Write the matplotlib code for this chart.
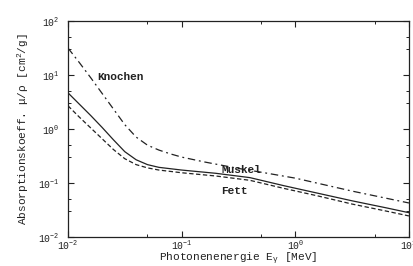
import matplotlib
matplotlib.use("Agg")
import matplotlib.pyplot as plt
from matplotlib.ticker import LogLocator, NullFormatter

plt.rcParams['font.family'] = ['Liberation Mono', 'DejaVu Sans']
plt.rcParams['mathtext.fontset'] = 'custom'
plt.rcParams['mathtext.rm'] = 'Liberation Mono'
plt.rcParams['mathtext.it'] = 'Liberation Mono'

logE_kn = [-2.0, -1.9, -1.8, -1.7, -1.6, -1.5, -1.4, -1.3, -1.2, -1.1, -1.0,
           -0.8, -0.5, -0.3, 0.0, 0.5, 1.0]
logmu_kn = [1.5, 1.23, 0.95, 0.66, 0.37, 0.08, -0.15, -0.30, -0.39, -0.46, -0.52,
            -0.61, -0.73, -0.80, -0.91, -1.15, -1.37]

logE_mu = [-2.0, -1.9, -1.8, -1.7, -1.6, -1.5, -1.4, -1.3, -1.2, -1.0, -0.7,
           -0.4, -0.1, 0.2, 0.5, 0.8, 1.0]
logmu_mu = [0.67, 0.46, 0.25, 0.03, -0.2, -0.42, -0.57, -0.66, -0.71, -0.76, -0.82,
            -0.90, -1.05, -1.19, -1.33, -1.46, -1.55]

logE_fe = [-2.0, -1.9, -1.8, -1.7, -1.6, -1.5, -1.4, -1.3, -1.2, -1.0, -0.7,
           -0.4, -0.1, 0.2, 0.5, 0.8, 1.0]
logmu_fe = [0.43, 0.22, 0.02, -0.18, -0.38, -0.55, -0.66, -0.72, -0.76, -0.81, -0.87,
            -0.95, -1.10, -1.24, -1.39, -1.52, -1.61]

E_kn = [10 ** v for v in logE_kn]
mu_kn = [10 ** v for v in logmu_kn]
E_mu = [10 ** v for v in logE_mu]
mu_mu = [10 ** v for v in logmu_mu]
E_fe = [10 ** v for v in logE_fe]
mu_fe = [10 ** v for v in logmu_fe]

fig = plt.figure(figsize=(4.13, 2.66), dpi=100)
ax = fig.add_axes([0.1646, 0.109, 0.8256, 0.812])

ax.plot(E_kn, mu_kn, color='#222222', lw=0.9, linestyle=(0, (6, 3, 1.5, 3)))
ax.plot(E_mu, mu_mu, color='#222222', lw=0.9, linestyle='solid')
ax.plot(E_fe, mu_fe, color='#222222', lw=0.9, linestyle=(0, (3.5, 2)))

ax.set_xscale('log')
ax.set_yscale('log')
ax.set_xlim(1e-2, 1e1)
ax.set_ylim(1e-2, 1e2)

ax.xaxis.set_major_locator(LogLocator(base=10, numticks=10))
ax.yaxis.set_major_locator(LogLocator(base=10, numticks=10))
ax.xaxis.set_minor_locator(LogLocator(base=10, subs=(5,), numticks=10))
ax.yaxis.set_minor_locator(LogLocator(base=10, subs=(3, 5), numticks=10))
ax.xaxis.set_minor_formatter(NullFormatter())
ax.yaxis.set_minor_formatter(NullFormatter())

ax.tick_params(which='both', direction='in', top=True, right=True,
               colors='#222222', labelsize=7)
ax.tick_params(which='major', length=4, width=0.8)
ax.tick_params(axis='x', which='major', pad=1)
ax.tick_params(axis='y', which='major', pad=6)
ax.tick_params(which='minor', length=2.5, width=0.7)
for s in ax.spines.values():
    s.set_color('#222222')
    s.set_linewidth(0.9)

ax.text(0.018, 9.2, 'Knochen', fontsize=8, fontweight='bold', color='#222222',
        va='center')
ax.text(0.223, 0.175, 'Muskel', fontsize=8, fontweight='bold', color='#222222',
        va='center')
ax.text(0.223, 0.0715, 'Fett', fontsize=8, fontweight='bold', color='#222222',
        va='center')

ax.set_xlabel(r'Photonenenergie E$_\gamma$ [MeV]', fontsize=8, color='#222222',
              labelpad=-0.5)
ax.set_ylabel(r'Absorptionskoeff. $\mu/\rho$ [cm$^2$/g]', fontsize=8,
              color='#222222', labelpad=5)

fig.savefig('out.png', dpi=100, facecolor='white')
